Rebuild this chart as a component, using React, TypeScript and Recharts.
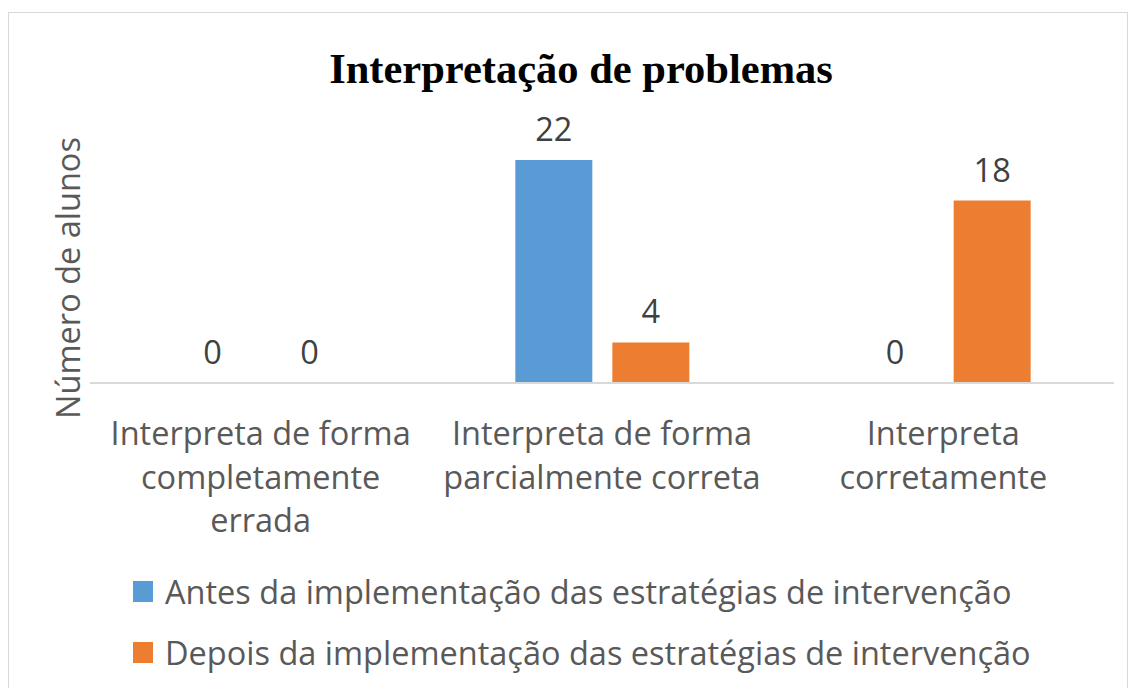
import { BarChart, Bar, XAxis, YAxis } from 'recharts';

const categories = [
    ['Interpreta de forma', 'completamente', 'errada'],
    ['Interpreta de forma', 'parcialmente correta'],
    ['Interpreta', 'corretamente'],
];
const antes = [0, 22, 0];
const depois = [0, 4, 18];
const seriesNames = [
    'Antes da implementação das estratégias de intervenção',
    'Depois da implementação das estratégias de intervenção',
];
const colors = ['#5B9BD5', '#ED7D31'];

const data = categories.map((c, i) => ({
    name: c.join('\n'),
    antes: antes[i],
    depois: depois[i],
}));

const font = '"Open Sans", sans-serif';
const textColor = '#595959';
const fs = 32.5;

const CategoryTick = (props: any) => {
    const { x, y, payload } = props;
    const lines = String(payload.value).split('\n');
    return (
        <text x={x} y={y} textAnchor="middle" fill={textColor} fontSize={fs} fontFamily={font}>
            {lines.map((l, i) => (
                <tspan key={i} x={x} dy={i === 0 ? 54 : 43.5}>{l}</tspan>
            ))}
        </text>
    );
};

// label above each bar, drawn also for zero values
const ValueLabel = (props: any) => {
    const { x, y, width, value } = props;
    return (
        <text x={x + width / 2} y={y - 19} textAnchor="middle" fill="#404040" fontSize={fs} fontFamily={font}>
            {value}
        </text>
    );
};

export default function App() {
    return (
        <div style={{ position: 'absolute', left: 0, top: 0, width: 1131, height: 688, background: '#fff', overflow: 'hidden' }}>
            <div style={{ position: 'absolute', left: 8, top: 12, width: 1118, height: 700, border: '1px solid #d9d9d9' }} />
            <div style={{ position: 'absolute', left: 0, top: 44, width: 1162, textAlign: 'center', fontFamily: '"Liberation Serif", serif', fontWeight: 'bold', fontSize: 42.5, color: '#000' }}>
                Interpretação de problemas
            </div>
            <div style={{ position: 'absolute', left: 67, top: 278, transform: 'translate(-50%, -50%) rotate(-90deg)', whiteSpace: 'nowrap', fontFamily: font, fontSize: fs, color: textColor }}>
                Número de alunos
            </div>
            <div style={{ position: 'absolute', left: 0, top: 0 }}>
                <BarChart width={1131} height={688} data={data} margin={{ top: 160, right: 17, left: 90, bottom: 175 }} barSize={77} barGap={20}>
                    <XAxis dataKey="name" height={130} interval={0} tickLine={false} axisLine={{ stroke: '#d9d9d9', strokeWidth: 2 }} tick={<CategoryTick />} />
                    <YAxis hide domain={[0, 22]} allowDataOverflow />
                    <Bar dataKey="antes" fill={colors[0]} minPointSize={0.01} isAnimationActive={false} label={<ValueLabel />} />
                    <Bar dataKey="depois" fill={colors[1]} minPointSize={0.01} isAnimationActive={false} label={<ValueLabel />} />
                </BarChart>
            </div>
            {seriesNames.map((n, i) => (
                <div key={n} style={{ position: 'absolute', left: 133, top: 569 + i * 61, display: 'flex', alignItems: 'center', fontFamily: font, fontSize: fs, color: textColor, whiteSpace: 'nowrap' }}>
                    <span style={{ display: 'inline-block', width: 20, height: 21, background: colors[i], marginRight: 12 }} />
                    {n}
                </div>
            ))}
        </div>
    );
}
